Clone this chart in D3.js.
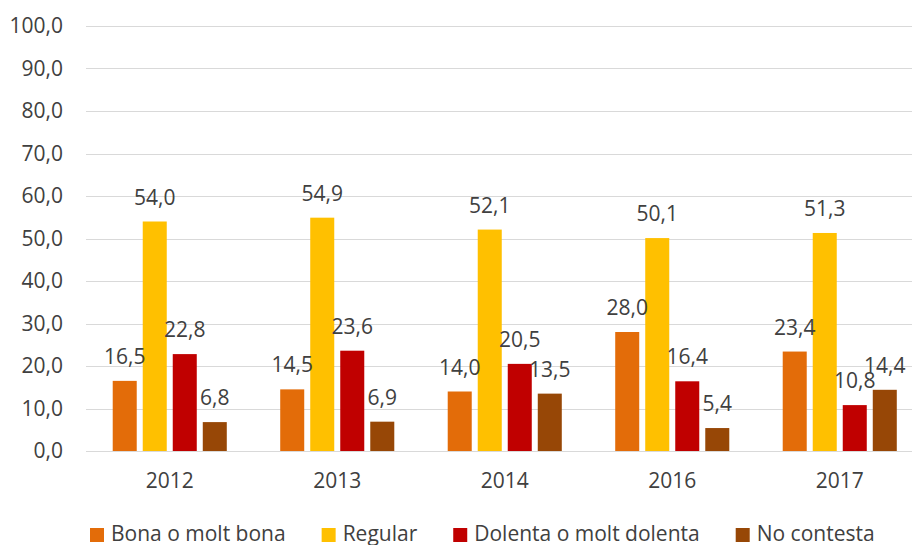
<!DOCTYPE html>
<html>
<head>
<meta charset="utf-8">
<script src="https://cdn.jsdelivr.net/npm/d3@7"></script>
<style>
  body { margin: 0; background: #fff; }
  svg { display: block; font-family: "Open Sans", "Liberation Sans", sans-serif; }
  .grid line { stroke: #d9d9d9; stroke-width: 1; }
  .lbl { fill: #404040; font-size: 21px; }
</style>
</head>
<body>
<script>
// years on the x axis
const years = ["2012", "2013", "2014", "2016", "2017"];
// series (legend order)
const seriesNames = ["Bona o molt bona", "Regular", "Dolenta o molt dolenta", "No contesta"];
const seriesColors = ["#e36c09", "#ffc000", "#c00000", "#974706"];
const bona = [16.5, 14.5, 14.0, 28.0, 23.4];
const regular = [54.0, 54.9, 52.1, 50.1, 51.3];
const dolenta = [22.8, 23.6, 20.5, 16.4, 10.8];
const noContesta = [6.8, 6.9, 13.5, 5.4, 14.4];
const yTicks = [0, 10, 20, 30, 40, 50, 60, 70, 80, 90, 100];

const width = 912, height = 545;
const margin = { left: 86, top: 26, bottom: 94 };

const locale = d3.formatLocale({ decimal: ",", thousands: ".", grouping: [3], currency: ["", "€"] });
const fmt = locale.format(".1f");

const svg = d3.select("body").append("svg")
    .attr("width", width)
    .attr("height", height);

// plot continues past the right edge (the original picture is cropped)
const x = d3.scaleBand()
    .domain(years)
    .range([margin.left, margin.left + 5 * 167.5]);
const xInner = d3.scaleBand()
    .domain(d3.range(seriesNames.length))
    .range([0, x.bandwidth()])
    .paddingInner(0.2)
    .paddingOuter(0.89);
const y = d3.scaleLinear()
    .domain([0, 100])
    .range([height - margin.bottom, margin.top]);

// gridlines
svg.append("g").attr("class", "grid")
    .selectAll("line")
    .data(yTicks)
    .join("line")
    .attr("x1", margin.left)
    .attr("x2", width)
    .attr("y1", d => Math.round(y(d)) + 0.5)
    .attr("y2", d => Math.round(y(d)) + 0.5);

// y labels
svg.append("g")
    .selectAll("text")
    .data(yTicks)
    .join("text")
    .attr("class", "lbl")
    .attr("x", 63)
    .attr("y", d => y(d))
    .attr("dy", "0.35em")
    .attr("text-anchor", "end")
    .text(d => fmt(d));

// x labels
svg.append("g")
    .selectAll("text")
    .data(years)
    .join("text")
    .attr("class", "lbl")
    .attr("x", d => x(d) + x.bandwidth() / 2)
    .attr("y", 488)
    .attr("text-anchor", "middle")
    .text(d => d);

const allSeries = [bona, regular, dolenta, noContesta];
const cells = [];
years.forEach((yr, i) => {
    allSeries.forEach((vals, s) => cells.push({ year: yr, s: s, v: vals[i] }));
});

svg.append("g")
    .selectAll("rect")
    .data(cells)
    .join("rect")
    .attr("x", d => x(d.year) + xInner(d.s))
    .attr("width", xInner.bandwidth())
    .attr("y", d => y(d.v))
    .attr("height", d => y(0) - y(d.v))
    .attr("fill", d => seriesColors[d.s]);

svg.append("g")
    .selectAll("text")
    .data(cells)
    .join("text")
    .attr("class", "lbl")
    .attr("x", d => x(d.year) + xInner(d.s) + xInner.bandwidth() / 2)
    .attr("y", d => y(d.v) - 17)
    .attr("text-anchor", "middle")
    .text(d => fmt(d.v));

// legend, laid out item by item
const legend = svg.append("g");
let lx = 90;
seriesNames.forEach((name, s) => {
    const g = legend.append("g").attr("transform", `translate(${lx},0)`);
    g.append("rect")
        .attr("x", 0).attr("y", 528)
        .attr("width", 14).attr("height", 14)
        .attr("fill", seriesColors[s]);
    const t = g.append("text")
        .attr("class", "lbl")
        .attr("x", 21)
        .attr("y", 541)
        .text(name);
    lx += 21 + t.node().getComputedTextLength() + 36;
});
</script>
</body>
</html>
